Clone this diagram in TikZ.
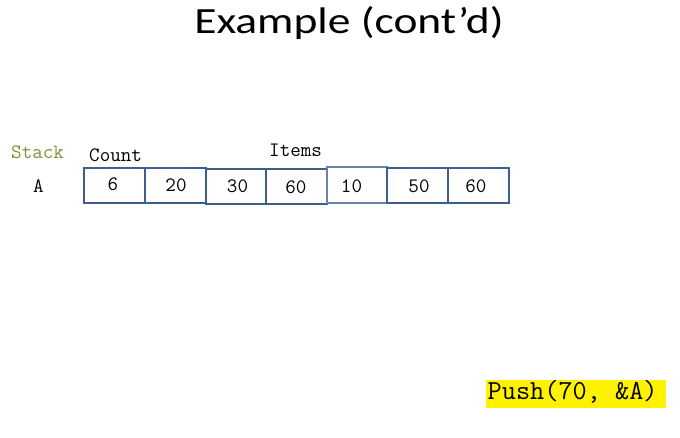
\documentclass[tikz,border=0pt]{standalone}
\usepackage{graphicx}
\usepackage{fontspec}
\setmainfont{Carlito}
\begin{document}
\begin{tikzpicture}[x=1pt,y=-1pt,
  cell/.style={draw=cellblue,line width=2pt},
  lightcell/.style={draw=cellpale,line width=2pt},
  code/.style={font=\ttfamily\fontsize{20.5}{22}\selectfont,inner sep=0pt},
  val/.style={code,anchor=base},
  lbl/.style={code,anchor=base west}]
\definecolor{cellblue}{HTML}{3E5F8C}
\definecolor{cellpale}{HTML}{6A84A8}
\definecolor{olive}{HTML}{7F8F3A}
\useasboundingbox (0,0) rectangle (680,437);

% title, set wide
\node[anchor=base,inner sep=0pt,font=\fontsize{37}{40}\selectfont] (title) at (349,33.5) {\scalebox{1.23}[1]{Example (cont’d)}};

% labels
\node[lbl,text=olive] (stack) at (11,158) {Stack};
\node[lbl] (count) at (89,161) {Count};
\node[lbl] (items) at (269,156) {Items};
\node[lbl] (name) at (33,192) {A};

% array cells
\draw[cell] (84,168) rectangle (145,203);
\draw[cell] (145,168) rectangle (206,203);
\draw[cell] (206,169) rectangle (266,204);
\draw[cell] (266,169) rectangle (327,204);
\draw[lightcell] (327,167) rectangle (387,203);
\draw[cell] (387,168) rectangle (448,203);
\draw[cell] (448,168) rectangle (509,203);

% cell values
\node[val] (v1) at (113,190) {6};
\node[val] (v2) at (176,191) {20};
\node[val] (v3) at (237.5,192) {30};
\node[val] (v4) at (296,193) {60};
\node[val] (v5) at (351.5,192) {10};
\node[val] (v6) at (419,192) {50};
\node[val] (v7) at (476,192) {60};

% highlighted call
\fill[yellow] (486,380) rectangle (666,408);
\node[anchor=base west,inner sep=0pt,font=\ttfamily\fontsize{27.5}{30}\selectfont] (call) at (487.5,399) {Push(70, \&A)};
\end{tikzpicture}
\end{document}
